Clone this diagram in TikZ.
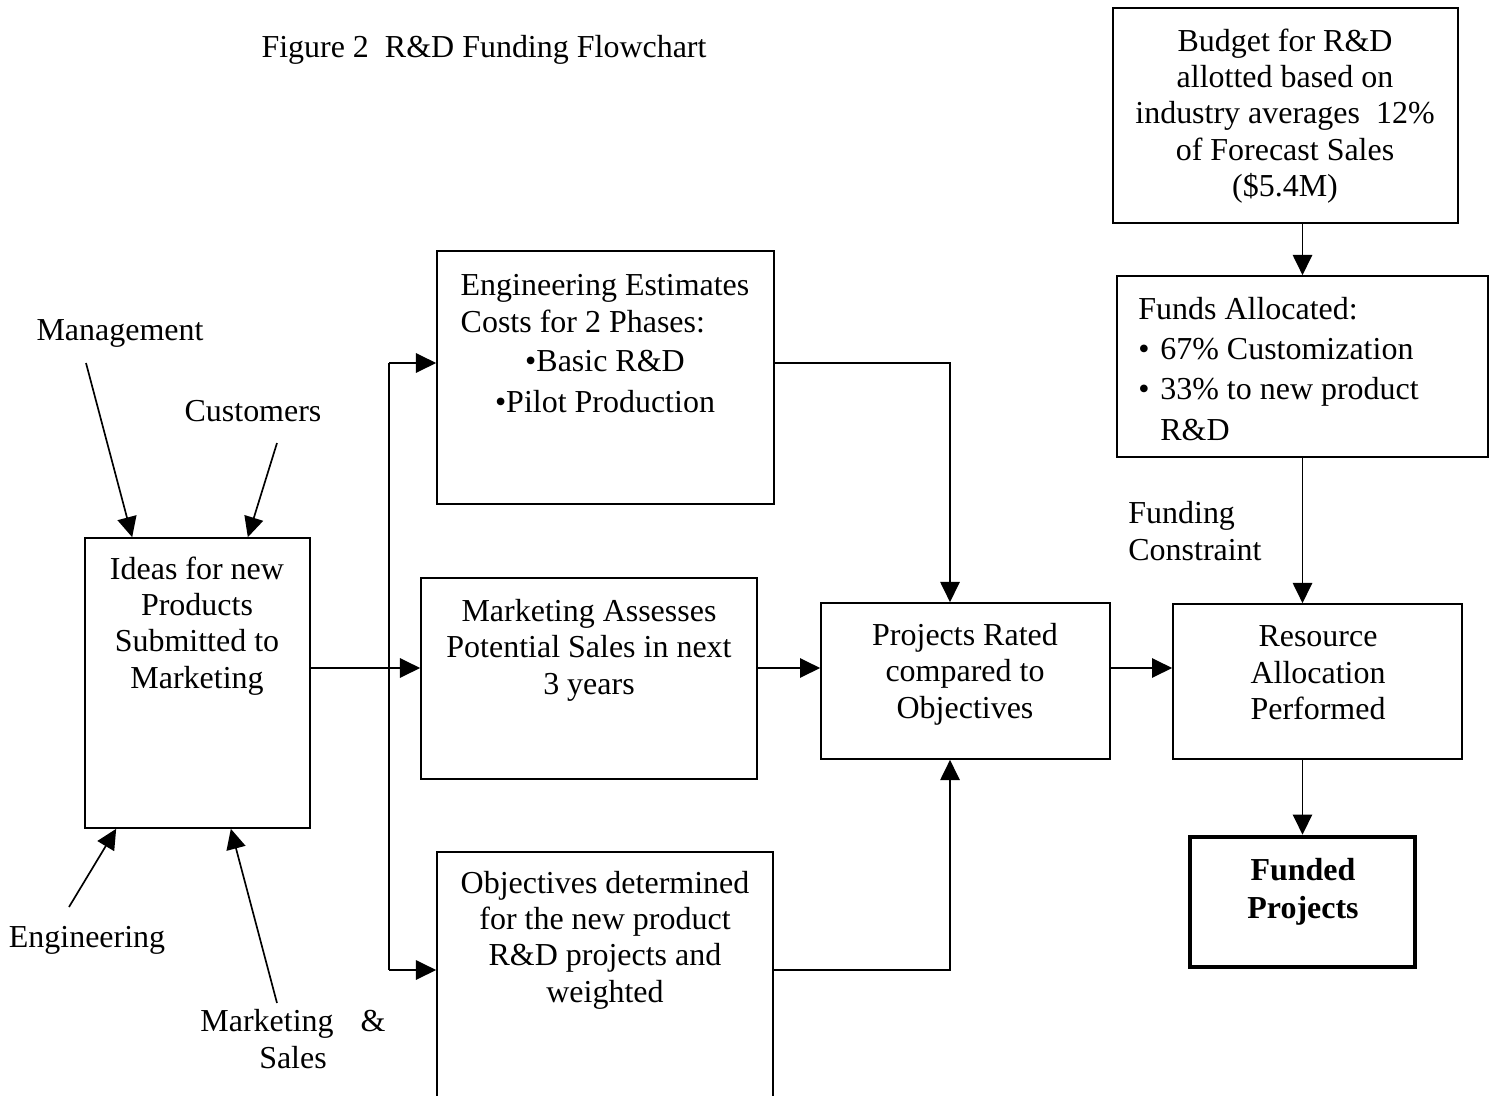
\documentclass[tikz,border=0pt]{standalone}
\usepackage{fontspec}
\setmainfont{Liberation Serif}
\usetikzlibrary{arrows.meta,calc}
\newcommand\blt{\makebox[0.44cm][l]{•}}

\begin{document}
\begin{tikzpicture}[x=0.02cm,y=-0.02cm,
    box/.style={draw,line width=0.95pt,inner sep=0pt},
    txt/.style={font=\fontsize{18.2}{20.7}\selectfont,align=center,inner sep=0pt},
    boldtxt/.style={txt,font=\fontsize{18.2}{21.6}\selectfont\bfseries},
    wire/.style={line width=0.95pt},
    arr/.style={wire,-{Triangle[length=11.5pt,width=11pt]}}]
    \clip (0,0) rectangle (1497,1095);
    % Title
    \node[txt] (title) at (484,50) {Figure 2\ \ R\&D Funding Flowchart};
    % Sources of ideas
    \node[txt] (mgmt) at (120,333) {Management};
    \node[txt] (cust) at (253,411) {Customers};
    \node[txt] (eng) at (87,940) {Engineering};
    \node[txt] (mktsales) at (293,1039) {Marketing\hspace{0.54cm}\&\\Sales};
    \coordinate (mgmtend) at (86,363);
    \coordinate (custend) at (277,443);
    \coordinate (engend) at (69,907);
    \coordinate (mktend) at (277,1003);
    % Boxes
    \node[box,minimum width=4.5cm,minimum height=5.8cm] (ideas) at (197.5,683) {};
    \node[box,minimum width=6.74cm,minimum height=5.06cm] (engest) at (605.5,377.5) {};
    \node[box,minimum width=6.72cm,minimum height=4.02cm] (mkt) at (589,678.5) {};
    \node[box,minimum width=6.72cm,minimum height=5.2cm] (obj) at (605,982) {};
    \node[box,minimum width=5.78cm,minimum height=3.12cm] (rated) at (965.5,681) {};
    \node[box,minimum width=5.78cm,minimum height=3.1cm] (res) at (1317.5,681.5) {};
    \node[box,line width=2.6pt,minimum width=4.5cm,minimum height=2.6cm] (funded) at (1302.5,902) {};
    \node[box,minimum width=6.9cm,minimum height=4.3cm] (budget) at (1285.5,115.5) {};
    \node[box,minimum width=7.42cm,minimum height=3.62cm] (funds) at (1302.5,366.5) {};
    % Box texts
    \node[txt] (ideastxt) at (197,626) {Ideas for new\\Products\\Submitted to\\Marketing};
    \node[txt] (engesttxt) at (605,344) {Engineering Estimates\\\rlap{Costs for 2 Phases:}\phantom{Engineering Estimates}\\[1.7pt]•Basic R\&D\\[2.8pt]•Pilot Production};
    \node[txt] (mkttxt) at (589,650) {Marketing Assesses\\Potential Sales in next\\3 years};
    \node[txt] (objtxt) at (605,940) {Objectives determined\\for the new product\\R\&D projects and\\weighted};
    \node[txt] (ratedtxt) at (965,674) {Projects Rated\\compared to\\Objectives};
    \node[txt] (restxt) at (1318,673) {Resource\\Allocation\\Performed};
    \node[boldtxt] (fundedtxt) at (1303,892) {Funded\\Projects};
    \node[txt] (budgettxt) at (1285,116) {Budget for R\&D\\allotted based on\\industry averages\ \ 12\%\\of Forecast Sales\\(\$5.4M)};
    \node[txt,align=left,anchor=west] (fundstxt) at (1138,369) {Funds Allocated:\\[2.1pt]\blt 67\% Customization\\[2.1pt]\blt 33\% to new product\\[2.1pt]\hspace*{0.44cm}R\&D};
    \node[txt,align=left,anchor=west] (constr) at (1128,531) {Funding\\Constraint};
    % Connectors
    \draw[arr] (mgmtend) -- ([xshift=0.96cm]ideas.north west);
    \draw[arr] (custend) -- ([xshift=-1.26cm]ideas.north east);
    \draw[arr] (engend) -- ([xshift=0.64cm]ideas.south west);
    \draw[arr] (mktend) -- ([xshift=-1.6cm]ideas.south east);
    \coordinate (br) at (389,668);
    \coordinate (brtop) at (389,363);
    \coordinate (brbot) at (389,970);
    \draw[wire] (ideas.east |- br) -- (br);
    \draw[arr] (br) -- (br -| mkt.west);
    \draw[wire] (brtop) -- (brbot);
    \draw[arr] (brtop) -- (brtop -| engest.west);
    \draw[arr] (brbot) -- (brbot -| obj.west);
    \draw[arr] (engest.east |- brtop) -| ([xshift=-0.31cm]rated.north);
    \draw[arr] (obj.east |- brbot) -| ([xshift=-0.31cm]rated.south);
    \draw[arr] (mkt.east |- br) -- (br -| rated.west);
    \draw[arr] (rated.east |- br) -- (br -| res.west);
    \draw[arr] (budget.south -| funds.north) -- (funds.north);
    \draw[arr] (funds.south) -- (funds.south |- res.north);
    \draw[arr] (res.south -| funded.north) -- (funded.north);
\end{tikzpicture}
\end{document}
